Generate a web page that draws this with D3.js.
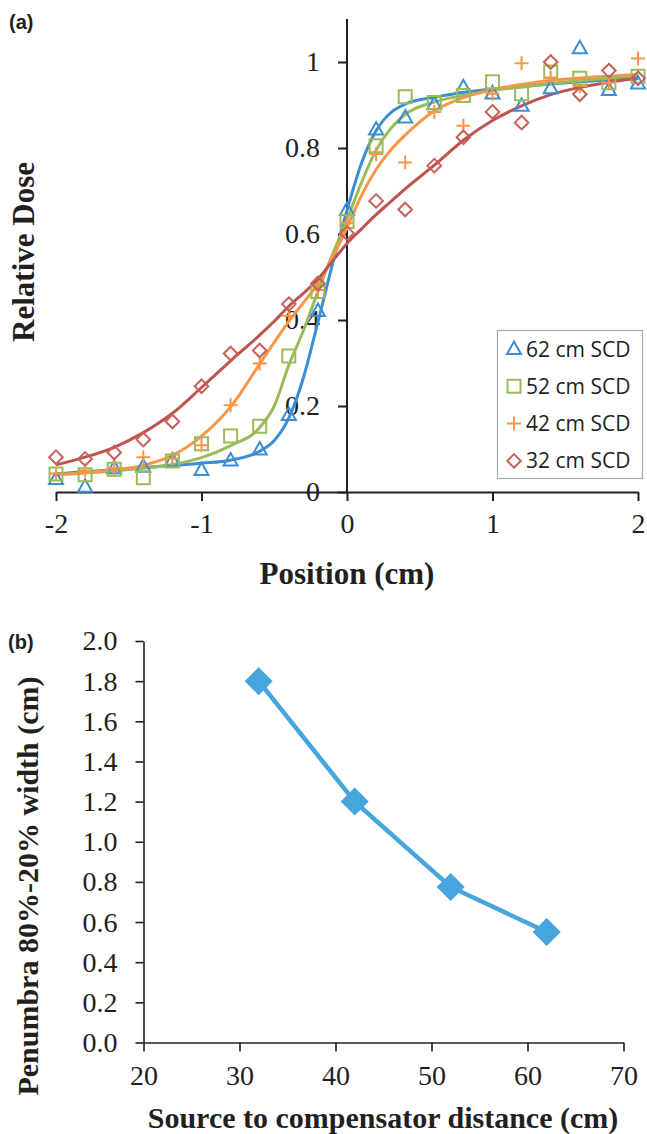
<!DOCTYPE html>
<html><head><meta charset="utf-8">
<script src="https://cdn.jsdelivr.net/npm/d3@7"></script>
<style>
html,body{margin:0;padding:0;background:#fff;}
svg{display:block;}
</style></head>
<body>
<svg id="chart" width="647" height="1134"></svg>
<script>
// ---------- Panel (a) data ----------
const positions = [-2,-1.8,-1.6,-1.4,-1.2,-1,-0.8,-0.6,-0.4,-0.2,0,0.2,0.4,0.6,0.8,1,1.2,1.4,1.6,1.8,2];
const seriesNames = ["62 cm SCD","52 cm SCD","42 cm SCD","32 cm SCD"];
const dose62 = [0.030,0.012,0.055,0.059,0.073,0.051,0.073,0.099,0.179,0.421,0.656,0.843,0.871,0.902,0.941,0.927,0.898,0.939,1.032,0.935,0.950];
const dose52 = [0.042,0.040,0.053,0.033,0.072,0.112,0.130,0.153,0.316,0.466,0.629,0.805,0.919,0.906,0.922,0.954,0.926,0.977,0.962,0.952,0.967];
const dose42 = [0.043,0.050,0.055,0.081,0.078,0.109,0.202,0.299,0.410,0.470,0.625,0.786,0.766,0.884,0.852,0.926,0.997,0.964,0.944,0.952,1.008];
const dose32 = [0.081,0.077,0.092,0.122,0.164,0.246,0.322,0.329,0.437,0.485,0.602,0.677,0.657,0.759,0.825,0.884,0.859,1.000,0.925,0.980,0.962];
// fitted curves
const fitX    = [-2,-1.8,-1.6,-1.4,-1.2,-1,-0.8,-0.6,-0.5,-0.4,-0.3,-0.2,-0.1,0,0.1,0.2,0.3,0.4,0.6,0.8,1,1.2,1.4,1.6,1.8,2];
const fit62   = [0.042,0.047,0.052,0.057,0.062,0.067,0.074,0.095,0.120,0.172,0.265,0.395,0.530,0.655,0.765,0.840,0.882,0.902,0.918,0.929,0.937,0.943,0.949,0.954,0.958,0.962];
const fit52   = [0.040,0.044,0.049,0.055,0.064,0.080,0.108,0.150,0.200,0.295,0.375,0.466,0.552,0.633,0.720,0.795,0.845,0.878,0.907,0.922,0.934,0.942,0.950,0.957,0.963,0.968];
const fit42   = [0.040,0.045,0.052,0.062,0.085,0.130,0.198,0.298,0.348,0.397,0.440,0.485,0.545,0.615,0.690,0.750,0.795,0.830,0.886,0.917,0.936,0.948,0.957,0.963,0.967,0.971];
const fit32   = [0.063,0.081,0.104,0.138,0.183,0.243,0.305,0.365,0.397,0.432,0.462,0.495,0.537,0.578,0.612,0.645,0.675,0.705,0.760,0.818,0.864,0.898,0.924,0.941,0.953,0.962];
const xTicksA = [-2,-1,0,1,2];
const yTicksA = [0,0.2,0.4,0.6,0.8,1];

// ---------- Panel (b) data ----------
const scd = [32,42,52,62];
const penumbra = [1.80,1.20,0.775,0.55];
const xTicksB = [20,30,40,50,60,70];
const yTicksB = [0,0.2,0.4,0.6,0.8,1.0,1.2,1.4,1.6,1.8,2.0];

const colors = ["#3C8ED2","#9BBB59","#F79646","#BE5450"];
const markerColors = ["#3C8ED2","#9BBB59","#F79646","#C8605A"];
const symbols = ["triangle","square","plus","diamond"];
const doseSeries = [dose62,dose52,dose42,dose32];
const fitSeries = [fit62,fit52,fit42,fit32];

const svg = d3.select("#chart");
const ink = "#231f20";
const serif = "'Liberation Serif','Times New Roman',serif";

function markerPath(kind){
  if(kind==="triangle") return "M0,-7.5L7,5L-7,5Z";
  if(kind==="square") return "M-6.5,-6.5H6.5V6.5H-6.5Z";
  if(kind==="plus") return "M-7,0H7M0,-7V7";
  if(kind==="diamond") return "M0,-6.8L6.8,0L0,6.8L-6.8,0Z";
}

// ---------- Panel (a) ----------
const xA = d3.scaleLinear().domain([-2,2]).range([56,638]);
const yA = d3.scaleLinear().domain([0,1.1]).range([492,19]);

const gA = svg.append("g");
const yAxisA = d3.axisLeft(yA).tickValues(yTicksA).tickFormat(d=>d3.format("~g")(d)).tickSize(9).tickPadding(18).tickSizeOuter(0);
const gya = gA.append("g").attr("transform",`translate(${xA(0)},0)`).call(yAxisA);
const xAxisA = d3.axisBottom(xA).tickValues(xTicksA).tickFormat(d=>String(d)).tickSize(9).tickPadding(12).tickSizeOuter(0);
const gxa = gA.append("g").attr("transform",`translate(0,${yA(0)})`).call(xAxisA);
[gya,gxa].forEach(g=>{
  g.attr("font-family",serif).attr("font-size",28);
  g.select(".domain").attr("stroke",ink).attr("stroke-width",2);
  g.selectAll(".tick line").attr("stroke",ink).attr("stroke-width",2);
  g.selectAll(".tick text").attr("fill",ink).style("font-family",serif).style("font-size","28px");
});
gya.select(".domain").attr("d",`M0,${yA(1.1)}V${yA(0)}`);

const line = d3.line().x(d=>xA(d[0])).y(d=>yA(d[1])).curve(d3.curveMonotoneX);
fitSeries.forEach((fs,i)=>{
  gA.append("path").datum(fitX.map((x,j)=>[x,fs[j]]))
    .attr("d",line).attr("fill","none").attr("stroke",colors[i]).attr("stroke-width",3);
});
doseSeries.forEach((ds,i)=>{
  gA.append("g").selectAll("path").data(positions.map((x,j)=>[x,ds[j]])).join("path")
    .attr("transform",d=>`translate(${xA(d[0])},${yA(d[1])})`)
    .attr("d",markerPath(symbols[i])).attr("fill","none")
    .attr("stroke",markerColors[i]).attr("stroke-width",2);
});

// legend
const leg = gA.append("g");
leg.append("rect").attr("x",497.5).attr("y",330.5).attr("width",145).attr("height",148)
  .attr("fill","#fff").attr("stroke","#a6a6a6").attr("stroke-width",1.2);
seriesNames.forEach((n,i)=>{
  const cy = 349 + i*37.3;
  leg.append("path").attr("transform",`translate(514,${cy})`).attr("d",markerPath(symbols[i]))
    .attr("fill","none").attr("stroke",markerColors[i]).attr("stroke-width",2);
  leg.append("text").attr("x",526).attr("y",cy).attr("dy","0.36em").text(n)
    .attr("fill",ink).style("font-family","'Open Sans',sans-serif").style("font-size","21px");
});

gA.append("text").attr("transform",`translate(34,252) rotate(-90)`).attr("text-anchor","middle")
  .text("Relative Dose").attr("fill",ink).style("font-family",serif).style("font-weight","bold").style("font-size","31px");
gA.append("text").attr("x",347).attr("y",584).attr("text-anchor","middle")
  .text("Position (cm)").attr("fill",ink).style("font-family",serif).style("font-weight","bold").style("font-size","31px");
gA.append("text").attr("x",9).attr("y",29).text("(a)").attr("fill",ink)
  .style("font-family","'Liberation Sans',Arial,sans-serif").style("font-weight","bold").style("font-size","20px");

// ---------- Panel (b) ----------
const xB = d3.scaleLinear().domain([20,70]).range([143.5,623.5]);
const yB = d3.scaleLinear().domain([0,2]).range([1042.5,641]);
const gB = svg.append("g");
const gyb = gB.append("g").attr("transform",`translate(${xB(20)},0)`)
  .call(d3.axisLeft(yB).tickValues(yTicksB).tickFormat(d3.format(".1f")).tickSize(8).tickPadding(18).tickSizeOuter(0));
const gxb = gB.append("g").attr("transform",`translate(0,${yB(0)})`)
  .call(d3.axisBottom(xB).tickValues(xTicksB).tickFormat(d3.format("d")).tickSize(9).tickPadding(14).tickSizeOuter(0));
[gyb,gxb].forEach(g=>{
  g.attr("font-family",serif).attr("font-size",28);
  g.select(".domain").attr("stroke",ink).attr("stroke-width",1.6);
  g.selectAll(".tick line").attr("stroke",ink).attr("stroke-width",1.6);
  g.selectAll(".tick text").attr("fill",ink).style("font-family",serif).style("font-size","28px");
});
const lineB = d3.line().x(d=>xB(d[0])).y(d=>yB(d[1]));
const ptsB = scd.map((x,i)=>[x,penumbra[i]]);
gB.append("path").datum(ptsB).attr("d",lineB).attr("fill","none").attr("stroke","#45A5DC").attr("stroke-width",4.5);
gB.selectAll("path.dm").data(ptsB).join("path").attr("class","dm")
  .attr("transform",d=>`translate(${xB(d[0])},${yB(d[1])})`)
  .attr("d","M0,-14L14,0L0,14L-14,0Z").attr("fill","#45A5DC");

gB.append("text").attr("transform",`translate(38,886) rotate(-90)`).attr("text-anchor","middle")
  .text("Penumbra 80%-20% width (cm)").attr("fill",ink).style("font-family",serif).style("font-weight","bold").style("font-size","30px");
gB.append("text").attr("x",383).attr("y",1128).attr("text-anchor","middle")
  .text("Source to compensator distance (cm)").attr("fill",ink).style("font-family",serif).style("font-weight","bold").style("font-size","30px");
gB.append("text").attr("x",8).attr("y",649).text("(b)").attr("fill",ink)
  .style("font-family","'Liberation Sans',Arial,sans-serif").style("font-weight","bold").style("font-size","20px");
</script>
</body></html>
